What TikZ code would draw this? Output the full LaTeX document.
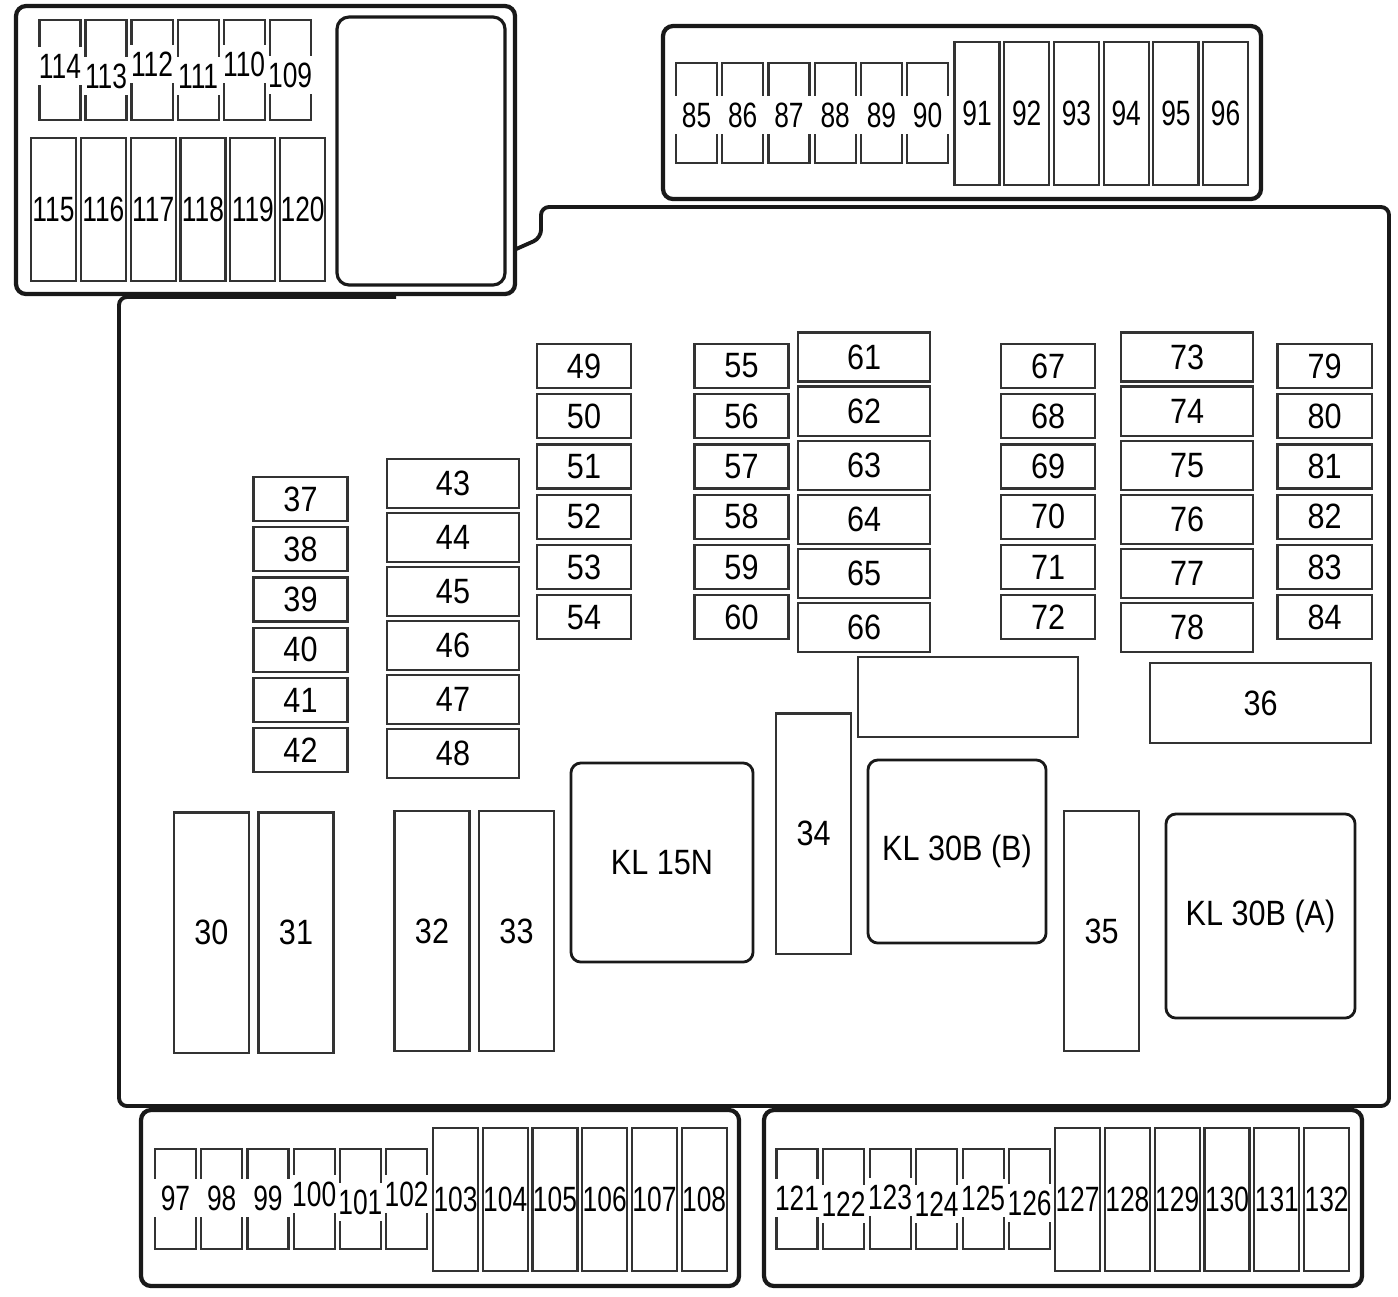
\documentclass[tikz,border=0pt]{standalone}
\usepackage{fontspec}
\setmainfont{Liberation Sans}
\newfontfamily\fusefont[FakeStretch=0.87]{Liberation Sans}
\newfontfamily\slotfont[FakeStretch=0.75]{Liberation Sans}
\usetikzlibrary{positioning}

\begin{document}
\begin{tikzpicture}[
  x=0.01cm, y=-0.01cm,
  font=\fusefont\fontsize{10}{12}\selectfont,
  node distance=0.062cm,
  housing/.style={draw=black!90, line width=1.1pt, rounded corners=0.08cm},
  panel/.style={draw=black!90, fill=white, line width=1.2pt, rounded corners=0.1cm},
  fuse/.style={rectangle, draw=black!80, line width=0.6pt, inner sep=0pt,
               outer sep=0pt, minimum width=0.94cm, minimum height=0.44cm},
  wide/.style={fuse, minimum width=1.32cm, minimum height=0.49cm},
  tall/.style={fuse, minimum width=0.75cm, minimum height=2.4cm},
  relay/.style={rectangle, draw=black!90, line width=0.8pt,
                rounded corners=0.1cm, inner sep=0pt},
  slot/.style={fuse, minimum width=0.41cm, minimum height=1.0cm},
  blade/.style={fuse, minimum width=0.45cm, minimum height=1.43cm,
                font=\slotfont\fontsize{10}{12}\selectfont},
  tag/.style={fill=white, inner sep=0pt, minimum width=0.46cm,
              minimum height=0.38cm, font=\slotfont\fontsize{10}{12}\selectfont},
]
\useasboundingbox (0,0) rectangle (1398,1296);

% Housing and side panels
\draw[housing] (396,297) -- (119,297) -- (119,1106) -- (1389,1106) -- (1389,207)
  -- (541,207) -- (541,238) -- (514,250);
\draw[panel] (16,6) rectangle (515,294);
\draw[panel, line width=0.9pt, rounded corners=0.12cm] (337,17) rectangle (505,285);
\draw[panel] (663,26) rectangle (1261,199);
\draw[panel] (141,1110) rectangle (739,1286);
\draw[panel] (764,1110) rectangle (1362,1286);

% Fuses 37-42
\node[fuse] (f37) at (300.5,499) {37};
\node[fuse, below=of f37] (f38) {38};
\node[fuse, below=of f38] (f39) {39};
\node[fuse, below=of f39] (f40) {40};
\node[fuse, below=of f40] (f41) {41};
\node[fuse, below=of f41] (f42) {42};

% Fuses 43-48
\node[wide] (f43) at (453,483.5) {43};
\node[wide, below=0.05cm of f43] (f44) {44};
\node[wide, below=0.05cm of f44] (f45) {45};
\node[wide, below=0.05cm of f45] (f46) {46};
\node[wide, below=0.05cm of f46] (f47) {47};
\node[wide, below=0.05cm of f47] (f48) {48};

% Fuses 49-54
\node[fuse] (f49) at (584,366) {49};
\node[fuse, below=of f49] (f50) {50};
\node[fuse, below=of f50] (f51) {51};
\node[fuse, below=of f51] (f52) {52};
\node[fuse, below=of f52] (f53) {53};
\node[fuse, below=of f53] (f54) {54};

% Fuses 55-60
\node[fuse] (f55) at (741.5,366) {55};
\node[fuse, below=of f55] (f56) {56};
\node[fuse, below=of f56] (f57) {57};
\node[fuse, below=of f57] (f58) {58};
\node[fuse, below=of f58] (f59) {59};
\node[fuse, below=of f59] (f60) {60};

% Fuses 61-66
\node[wide] (f61) at (864,357) {61};
\node[wide, below=0.05cm of f61] (f62) {62};
\node[wide, below=0.05cm of f62] (f63) {63};
\node[wide, below=0.05cm of f63] (f64) {64};
\node[wide, below=0.05cm of f64] (f65) {65};
\node[wide, below=0.05cm of f65] (f66) {66};

% Fuses 67-72
\node[fuse] (f67) at (1048,366) {67};
\node[fuse, below=of f67] (f68) {68};
\node[fuse, below=of f68] (f69) {69};
\node[fuse, below=of f69] (f70) {70};
\node[fuse, below=of f70] (f71) {71};
\node[fuse, below=of f71] (f72) {72};

% Fuses 73-78
\node[wide] (f73) at (1187,357) {73};
\node[wide, below=0.05cm of f73] (f74) {74};
\node[wide, below=0.05cm of f74] (f75) {75};
\node[wide, below=0.05cm of f75] (f76) {76};
\node[wide, below=0.05cm of f76] (f77) {77};
\node[wide, below=0.05cm of f77] (f78) {78};

% Fuses 79-84
\node[fuse] (f79) at (1324.5,366) {79};
\node[fuse, below=of f79] (f80) {80};
\node[fuse, below=of f80] (f81) {81};
\node[fuse, below=of f81] (f82) {82};
\node[fuse, below=of f82] (f83) {83};
\node[fuse, below=of f83] (f84) {84};

% Large fuses and relays
\node[tall] (f30) at (211.5,932.5) {30};
\node[tall] (f31) at (296,932.5) {31};
\node[tall] (f32) at (432,931) {32};
\node[tall] (f33) at (516.5,931) {33};
\node[tall] (f34) at (813.5,833.5) {34};
\node[tall] (f35) at (1101.5,931) {35};
\node[fuse, minimum width=2.21cm, minimum height=0.8cm] (f36) at (1260.5,703) {36};
\node[fuse, line width=0.8pt, minimum width=2.2cm, minimum height=0.8cm] (spare) at (968,697) {};
\node[relay, minimum width=1.82cm, minimum height=1.99cm] (kl15n) at (662,862.5) {KL 15N};
\node[relay, minimum width=1.78cm, minimum height=1.83cm] (kl30bb) at (957,851.5) {KL 30B (B)};
\node[relay, minimum width=1.89cm, minimum height=2.04cm] (kl30ba) at (1260.5,916) {KL 30B (A)};

% Top left panel
\node[slot] (f114) at (60,70) {};
\node[slot, right=0.05cm of f114] (f113) {};
\node[slot, right=0.05cm of f113] (f112) {};
\node[slot, right=0.05cm of f112] (f111) {};
\node[slot, right=0.05cm of f111] (f110) {};
\node[slot, right=0.05cm of f110] (f109) {};
\node[tag, yshift=0.04cm] (t114) at (f114) {114};
\node[tag, yshift=-0.06cm] (t113) at (f113) {113};
\node[tag, yshift=0.06cm] (t112) at (f112) {112};
\node[tag, yshift=-0.06cm] (t111) at (f111) {111};
\node[tag, yshift=0.06cm] (t110) at (f110) {110};
\node[tag, yshift=-0.05cm] (t109) at (f109) {109};
\node[blade] (f115) at (53.5,209.5) {115};
\node[blade, right=0.048cm of f115] (f116) {116};
\node[blade, right=0.048cm of f116] (f117) {117};
\node[blade, right=0.048cm of f117] (f118) {118};
\node[blade, right=0.048cm of f118] (f119) {119};
\node[blade, right=0.048cm of f119] (f120) {120};

% Top right panel
\node[slot] (f85) at (696.5,113) {};
\node[slot, right=0.052cm of f85] (f86) {};
\node[slot, right=0.052cm of f86] (f87) {};
\node[slot, right=0.052cm of f87] (f88) {};
\node[slot, right=0.052cm of f88] (f89) {};
\node[slot, right=0.052cm of f89] (f90) {};
\node[tag, yshift=-0.02cm] (t85) at (f85) {85};
\node[tag, yshift=-0.02cm] (t86) at (f86) {86};
\node[tag, yshift=-0.02cm] (t87) at (f87) {87};
\node[tag, yshift=-0.02cm] (t88) at (f88) {88};
\node[tag, yshift=-0.02cm] (t89) at (f89) {89};
\node[tag, yshift=-0.02cm] (t90) at (f90) {90};
\node[blade] (f91) at (977,113.5) {91};
\node[blade, right=0.047cm of f91] (f92) {92};
\node[blade, right=0.047cm of f92] (f93) {93};
\node[blade, right=0.047cm of f93] (f94) {94};
\node[blade, right=0.047cm of f94] (f95) {95};
\node[blade, right=0.047cm of f95] (f96) {96};

% Bottom left panel
\node[slot] (f97) at (175.5,1199) {};
\node[slot, right=0.052cm of f97] (f98) {};
\node[slot, right=0.052cm of f98] (f99) {};
\node[slot, right=0.052cm of f99] (f100) {};
\node[slot, right=0.052cm of f100] (f101) {};
\node[slot, right=0.052cm of f101] (f102) {};
\node[tag, yshift=0.01cm] (t97) at (f97) {97};
\node[tag, yshift=0.01cm] (t98) at (f98) {98};
\node[tag, yshift=0.01cm] (t99) at (f99) {99};
\node[tag, yshift=0.05cm] (t100) at (f100) {100};
\node[tag, yshift=-0.03cm] (t101) at (f101) {101};
\node[tag, yshift=0.05cm] (t102) at (f102) {102};
\node[blade] (f103) at (455.5,1199.5) {103};
\node[blade, right=0.047cm of f103] (f104) {104};
\node[blade, right=0.047cm of f104] (f105) {105};
\node[blade, right=0.047cm of f105] (f106) {106};
\node[blade, right=0.047cm of f106] (f107) {107};
\node[blade, right=0.047cm of f107] (f108) {108};

% Bottom right panel
\node[slot] (f121) at (797,1199) {};
\node[slot, right=0.055cm of f121] (f122) {};
\node[slot, right=0.055cm of f122] (f123) {};
\node[slot, right=0.055cm of f123] (f124) {};
\node[slot, right=0.055cm of f124] (f125) {};
\node[slot, right=0.055cm of f125] (f126) {};
\node[tag, yshift=0.01cm] (t121) at (f121) {121};
\node[tag, yshift=-0.05cm] (t122) at (f122) {122};
\node[tag, yshift=0.02cm] (t123) at (f123) {123};
\node[tag, yshift=-0.05cm] (t124) at (f124) {124};
\node[tag, yshift=0.01cm] (t125) at (f125) {125};
\node[tag, yshift=-0.04cm] (t126) at (f126) {126};
\node[blade] (f127) at (1077.5,1199.5) {127};
\node[blade, right=0.048cm of f127] (f128) {128};
\node[blade, right=0.048cm of f128] (f129) {129};
\node[blade, right=0.048cm of f129] (f130) {130};
\node[blade, right=0.048cm of f130] (f131) {131};
\node[blade, right=0.048cm of f131] (f132) {132};

\end{tikzpicture}
\end{document}
